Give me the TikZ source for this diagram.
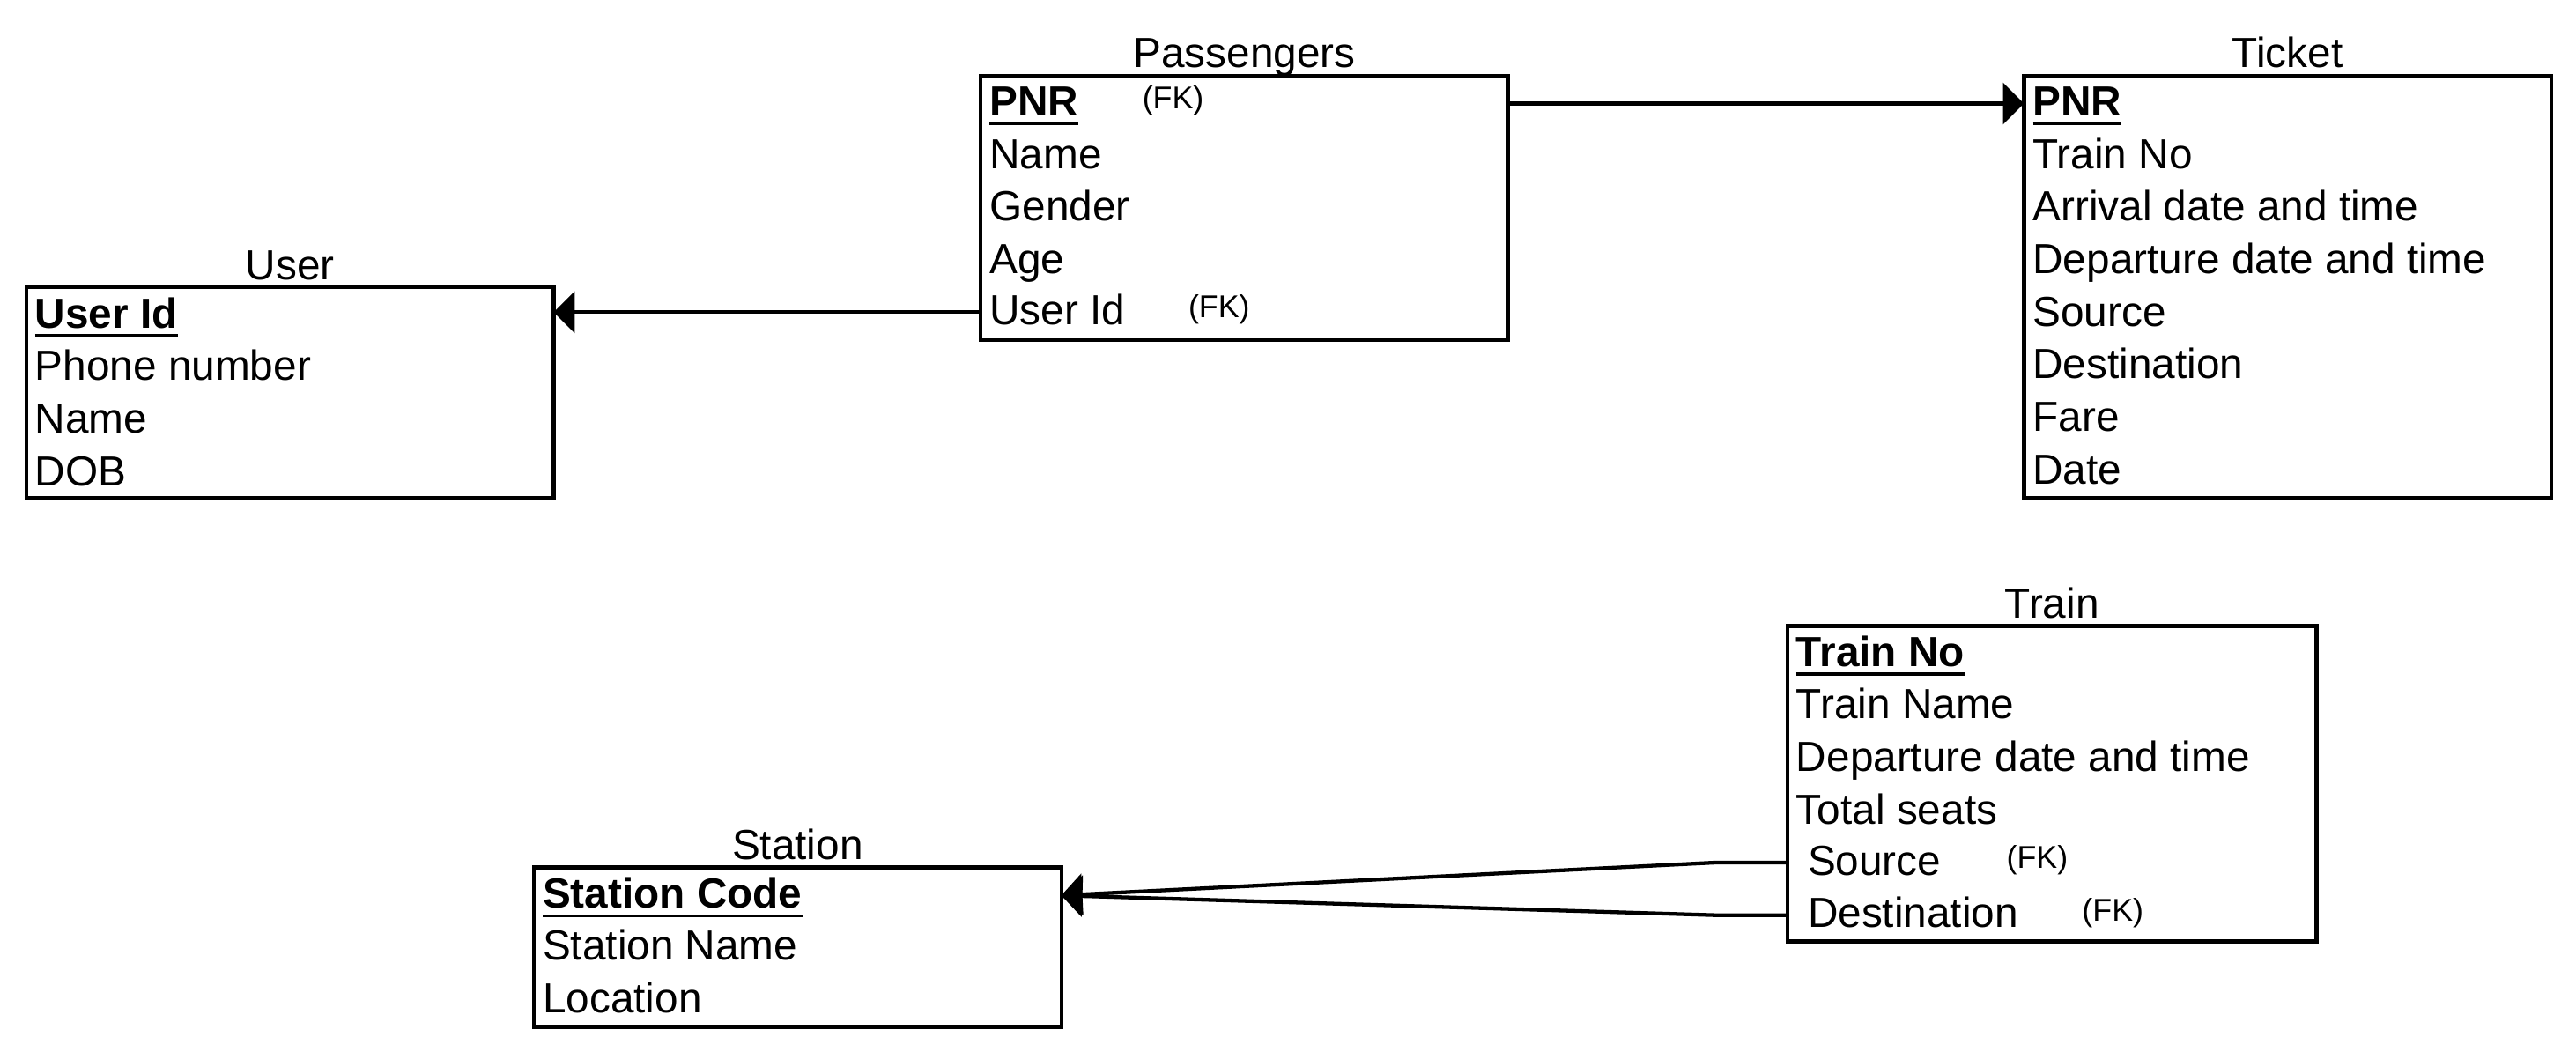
\documentclass[tikz,border=0pt]{standalone}
\usepackage{fontspec}
\setmainfont{Liberation Sans}
\usetikzlibrary{arrows.meta}

\newcommand{\pkey}[1]{\setbox0\hbox{\bfseries #1}\rlap{\rule[-2.85pt]{\wd0}{0.9pt}}\box0}

\tikzset{
  entity/.style={draw, line width=1.15pt, anchor=north west, inner sep=0pt, outer sep=0pt, minimum width=160.5pt},
  row/.style={anchor=west, inner sep=0pt, text height=9.5pt, text depth=2pt, font=\fontsize{12.8}{15}\selectfont},
  fknote/.style={anchor=west, inner sep=0pt, text height=7pt, text depth=3.5pt, font=\fontsize{9.6}{11}\selectfont},
  title/.style={anchor=base, inner sep=0pt, font=\fontsize{12.8}{15}\selectfont},
  link/.style={line width=1.15pt, -{Triangle[length=6.4pt,width=12.5pt]}}
}

\begin{document}
\begin{tikzpicture}[x=0.5pt, y=-0.5pt]
\useasboundingbox (0,0) rectangle (1568,640);

% User
\node[entity, minimum height=64pt] (user) at (16,175) {};
\node[title] at (176.5,170) {User};
\node[row] (user-id)    at (21,192) {\pkey{User Id}};
\node[row] (user-phone) at (21,224) {Phone number};
\node[row] (user-name)  at (21,256) {Name};
\node[row] (user-dob)   at (21,288) {DOB};

% Passengers
\node[entity, minimum height=80.5pt] (pass) at (597,46) {};
\node[title] at (757.5,41) {Passengers};
\node[row] (pass-pnr)    at (602,63)  {\pkey{PNR}};
\node[row] (pass-name)   at (602,95)  {Name};
\node[row] (pass-gender) at (602,127) {Gender};
\node[row] (pass-age)    at (602,159) {Age};
\node[row] (pass-user)   at (602,190) {User Id};
\node[fknote] (pass-fk1) at (695,63)  {(FK)};
\node[fknote] (pass-fk2) at (723,190) {(FK)};

% Ticket
\node[entity, minimum height=128.5pt] (ticket) at (1232,46) {};
\node[title] at (1392.5,41) {Ticket};
\node[row] (ticket-pnr)  at (1237,63)  {\pkey{PNR}};
\node[row] (ticket-no)   at (1237,95)  {Train No};
\node[row] (ticket-arr)  at (1237,127) {Arrival date and time};
\node[row] (ticket-dep)  at (1237,159) {Departure date and time};
\node[row] (ticket-src)  at (1237,191) {Source};
\node[row] (ticket-dst)  at (1237,223) {Destination};
\node[row] (ticket-fare) at (1237,255) {Fare};
\node[row] (ticket-date) at (1237,287) {Date};

% Train
\node[entity, minimum width=161pt, minimum height=96pt] (train) at (1088,381) {};
\node[title] at (1249,376) {Train};
\node[row] (train-no)    at (1093,398) {\pkey{Train No}};
\node[row] (train-name)  at (1093,430) {Train Name};
\node[row] (train-dep)   at (1093,462) {Departure date and time};
\node[row] (train-seats) at (1093,494) {Total seats};
\node[row] (train-src)   at (1100,525) {Source};
\node[row] (train-dst)   at (1100,557) {Destination};
\node[fknote] (train-fk1) at (1221,525) {(FK)};
\node[fknote] (train-fk2) at (1267,557) {(FK)};

% Station
\node[entity, minimum height=48.5pt] (station) at (325,528) {};
\node[title] at (485.5,523) {Station};
\node[row] (station-code) at (330,545) {\pkey{Station Code}};
\node[row] (station-name) at (330,577) {Station Name};
\node[row] (station-loc)  at (330,609) {Location};

% links
\draw[link] (pass.east |- pass-fk1) -- (ticket.west |- pass-fk1);
\draw[link] (pass.west |- pass-user) -- (user.east |- pass-user);
\draw[link] (train.west |- train-src) -- ++(-44,0) -- (station.east |- station-code);
\draw[link] (train.west |- train-dst) -- ++(-44,0) -- (station.east |- station-code);
\end{tikzpicture}
\end{document}
